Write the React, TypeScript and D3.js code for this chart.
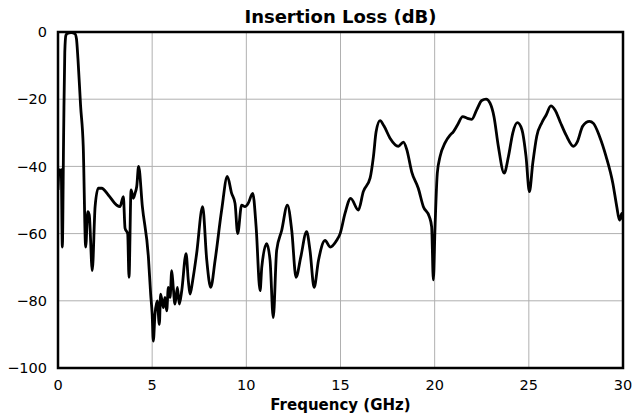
import * as d3 from "d3";
import React, { useRef, useEffect } from "react";

const freq = [
  0, 0.06, 0.12, 0.17, 0.23, 0.3, 0.36, 0.42, 0.5, 0.7, 0.9, 0.98, 1.06, 1.2, 1.34,
  1.47, 1.58, 1.66, 1.82, 1.97, 2.14, 2.32, 2.67, 3.11, 3.29, 3.47, 3.56, 3.7, 3.77,
  3.88, 4.0, 4.09, 4.18, 4.28, 4.48, 4.8, 4.92, 5.0, 5.06, 5.15, 5.27, 5.38, 5.45,
  5.59, 5.68, 5.77, 5.86, 5.95, 6.04, 6.12, 6.21, 6.34, 6.44, 6.57, 6.8, 6.92, 7.01,
  7.15, 7.36, 7.68, 7.9, 8.11, 8.34, 8.69, 8.99, 9.22, 9.4, 9.54, 9.75, 9.93, 10.1,
  10.34, 10.52, 10.73, 10.82, 11.08, 11.26, 11.43, 11.61, 11.88, 12.18, 12.41, 12.64,
  12.89, 13.2, 13.38, 13.6, 13.83, 14.18, 14.45, 14.8, 14.98, 15.24, 15.54, 15.95,
  16.21, 16.57, 16.75, 16.89, 17.1, 17.31, 17.63, 18.07, 18.34, 18.52, 18.78, 19.13,
  19.4, 19.72, 19.84, 19.93, 20.02, 20.14, 20.29, 20.55, 20.82, 20.99, 21.21, 21.49,
  21.74, 21.97, 22.23, 22.5, 22.73, 22.94, 23.15, 23.38, 23.69, 23.92, 24.15, 24.39,
  24.63, 24.85, 25.03, 25.21, 25.42, 25.69, 25.92, 26.17, 26.39, 26.66, 26.98, 27.37,
  27.58, 27.86, 28.22, 28.43, 28.75, 29.1, 29.46, 29.67, 29.81, 29.94, 30
];

const lossDb = [
  -47, -41, -42, -41, -64, -30, -6, -1, -0.4, -0.2, -0.5, -2, -8, -22, -34,
  -64, -53.5, -54.5, -71, -52, -46.5, -46.5, -48.5, -51.5, -52, -49, -58.4, -60, -73,
  -47, -49.5, -48, -46, -40, -52, -67, -78, -84, -92, -84, -80, -87, -78,
  -82, -79, -83, -76, -79, -71, -76, -81, -76, -81, -77, -66, -74, -78,
  -74, -66, -52, -68, -76, -68, -53, -43, -48, -51, -60, -51.5, -52, -51,
  -48, -58, -77, -70, -63, -68, -85, -65, -59, -51.5, -59, -73,
  -67, -59.4, -65, -76, -68, -62, -64, -62, -60, -54, -49.5, -53,
  -47.5, -43.5, -37, -29.7, -26.4, -28, -31.6, -34, -32.8, -35, -41.6, -46.5,
  -52, -55, -58, -73.8, -58, -42, -37, -33, -30.7, -29.7, -27.7, -25.2,
  -25.7, -26, -23.2, -20.4, -20, -21.2, -25.2, -34, -42, -37, -30, -27,
  -29, -37, -47.5, -39, -31, -27, -24.7, -22, -23.2, -26.7, -30.7, -34,
  -32.6, -28, -26.6, -27.2, -31, -37, -45, -52, -56, -54, -56
];

const xTicks = [0, 5, 10, 15, 20, 25, 30];
const yTicks = [0, -20, -40, -60, -80, -100];

const width = 633;
const height = 419;
const margin = { top: 32, right: 10, bottom: 51, left: 58 };
const font = "DejaVu Sans, sans-serif";

export default function App() {
  const ref = useRef<SVGSVGElement>(null);

  useEffect(() => {
    const svg = d3.select(ref.current);
    svg.selectAll("*").remove();

    const x = d3
      .scaleLinear()
      .domain([0, 30])
      .range([margin.left, width - margin.right]);
    const y = d3
      .scaleLinear()
      .domain([-100, 0])
      .range([height - margin.bottom, margin.top]);

    // grid
    svg
      .append("g")
      .selectAll("line")
      .data(xTicks)
      .enter()
      .append("line")
      .attr("x1", d => x(d))
      .attr("x2", d => x(d))
      .attr("y1", y(0))
      .attr("y2", y(-100))
      .attr("stroke", "#b0b0b0")
      .attr("stroke-width", 1);
    svg
      .append("g")
      .selectAll("line")
      .data(yTicks)
      .enter()
      .append("line")
      .attr("x1", x(0))
      .attr("x2", x(30))
      .attr("y1", d => y(d))
      .attr("y2", d => y(d))
      .attr("stroke", "#b0b0b0")
      .attr("stroke-width", 1);

    svg
      .append("clipPath")
      .attr("id", "plot")
      .append("rect")
      .attr("x", x(0))
      .attr("y", y(0))
      .attr("width", x(30) - x(0))
      .attr("height", y(-100) - y(0));

    const pts = freq.map((f, i) => [f, lossDb[i]] as [number, number]);
    const line = d3
      .line<[number, number]>()
      .x(d => x(d[0]))
      .y(d => y(d[1]))
      .curve(d3.curveMonotoneX);

    svg
      .append("path")
      .attr("d", line(pts))
      .attr("fill", "none")
      .attr("stroke", "black")
      .attr("stroke-width", 2.8)
      .attr("stroke-linejoin", "round")
      .attr("clip-path", "url(#plot)");

    // frame
    svg
      .append("rect")
      .attr("x", x(0))
      .attr("y", y(0))
      .attr("width", x(30) - x(0))
      .attr("height", y(-100) - y(0))
      .attr("fill", "none")
      .attr("stroke", "black")
      .attr("stroke-width", 2.5);

    // tick labels
    svg
      .append("g")
      .selectAll("text")
      .data(xTicks)
      .enter()
      .append("text")
      .attr("x", d => x(d))
      .attr("y", 390)
      .attr("text-anchor", "middle")
      .attr("font-family", font)
      .attr("font-size", "14.5px")
      .text(d => d3.format("d")(d));
    svg
      .append("g")
      .selectAll("text")
      .data(yTicks)
      .enter()
      .append("text")
      .attr("x", 47)
      .attr("y", d => y(d))
      .attr("dy", "0.36em")
      .attr("text-anchor", "end")
      .attr("font-family", font)
      .attr("font-size", "14.5px")
      .text(d => (d < 0 ? "\u2212" + Math.abs(d) : "" + d));

    // titles
    svg
      .append("text")
      .attr("x", (x(0) + x(30)) / 2)
      .attr("y", 23)
      .attr("text-anchor", "middle")
      .attr("font-family", font)
      .attr("font-weight", "bold")
      .attr("font-size", "18px")
      .text("Insertion Loss (dB)");
    svg
      .append("text")
      .attr("x", (x(0) + x(30)) / 2)
      .attr("y", 410)
      .attr("text-anchor", "middle")
      .attr("font-family", font)
      .attr("font-weight", "bold")
      .attr("font-size", "15px")
      .text("Frequency (GHz)");
  }, []);

  return (
    <svg
      ref={ref}
      width={width}
      height={height}
      style={{ position: "absolute", left: 0, top: 0, background: "white" }}
    ></svg>
  );
}
